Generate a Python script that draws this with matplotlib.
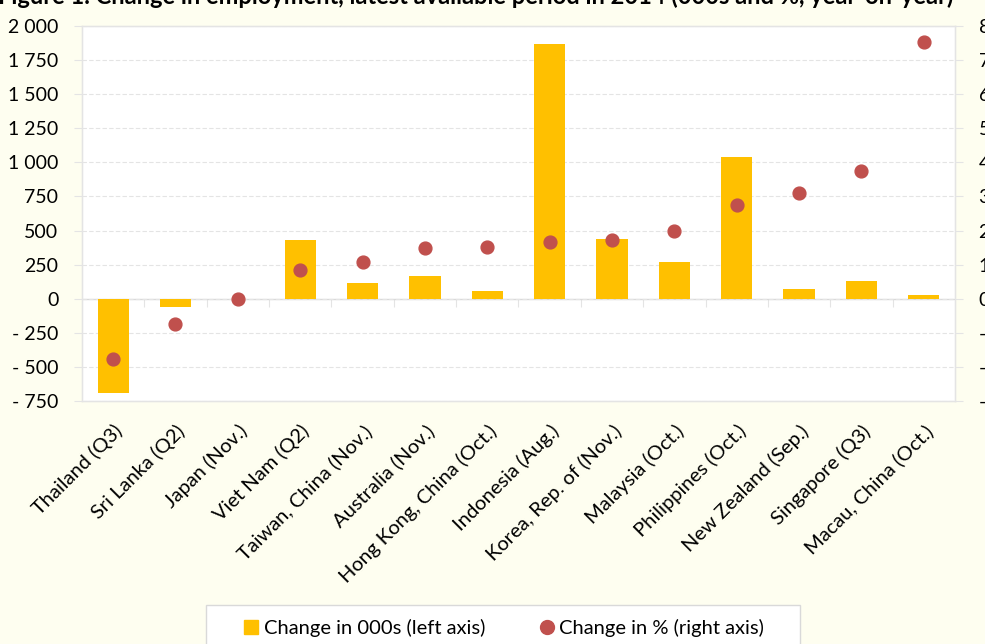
import matplotlib
matplotlib.use("Agg")
import matplotlib.pyplot as plt
from matplotlib.patches import Rectangle
from matplotlib.lines import Line2D
import numpy as np

plt.rcParams['font.family'] = ['Lato', 'DejaVu Sans']

categories = ["Thailand (Q3)", "Sri Lanka (Q2)", "Japan (Nov.)", "Viet Nam (Q2)",
              "Taiwan, China (Nov.)", "Australia (Nov.)", "Hong Kong, China (Oct.)",
              "Indonesia (Aug.)", "Korea, Rep. of (Nov.)", "Malaysia (Oct.)",
              "Philippines (Oct.)", "New Zealand (Sep.)", "Singapore (Q3)",
              "Macau, China (Oct.)"]
change_000s = [-690, -62, 0, 432, 119, 169, 59, 1867, 438, 269, 1043, 73, 127, 24]
change_pct = [-1.77, -0.74, 0.0, 0.83, 1.08, 1.50, 1.52, 1.65, 1.71, 2.00, 2.76, 3.11, 3.75, 7.54]

left_ticks = [-750, -500, -250, 0, 250, 500, 750, 1000, 1250, 1500, 1750, 2000]
left_labels = ["- 750", "- 500", "- 250", "0", "250", "500", "750",
               "1 000", "1 250", "1 500", "1 750", "2 000"]
right_ticks = [-3, -2, -1, 0, 1, 2, 3, 4, 5, 6, 7, 8]
right_labels = ["-3", "-2", "-1", "0", "1", "2", "3", "4", "5", "6", "7", "8"]

bar_color = "#FFC000"
dot_color = "#C0504D"
bg_color = "#FEFEF0"
grid_color = "#E4E4E4"

fig = plt.figure(figsize=(9.85, 6.44), dpi=100, facecolor=bg_color)
ax = fig.add_axes([0.0832, 0.3773, 0.8863, 0.5823])
ax.set_facecolor("white")

x = np.arange(len(categories))
ax.bar(x, change_000s, width=0.5, color=bar_color, zorder=2)
ax.set_xlim(-0.5, len(categories) - 0.5)
ax.set_ylim(-750, 2000)
ax.set_yticks(left_ticks)
ax.set_yticklabels(left_labels)
ax.yaxis.grid(True, color=grid_color, linestyle=(0, (4, 2)), linewidth=0.8, zorder=0)
ax.axhline(0, color="#D9D9D9", linewidth=1.0, zorder=1)
ax.tick_params(axis='y', length=6, color=grid_color, labelsize=14, pad=11)
ax.set_xticks(x)
ax.set_xticklabels(categories, rotation=45, ha='right', rotation_mode='anchor', fontsize=14.5)
ax.tick_params(axis='x', length=0, pad=15)
for s in ax.spines.values():
    s.set_color(grid_color)
    s.set_linewidth(1.0)

# category boundary ticks along the zero line
zero_frac = 750 / 2750
sec = ax.secondary_xaxis(zero_frac)
sec.set_xticks(np.arange(len(categories) - 1) + 0.5)
sec.set_xticklabels([])
sec.tick_params(axis='x', length=6, color=grid_color, direction='out')
sec.spines['bottom'].set_visible(False)

ax2 = ax.twinx()
ax2.scatter(x, change_pct, s=85, color=dot_color, zorder=3)
ax2.set_ylim(-3, 8)
ax2.set_yticks(right_ticks)
ax2.set_yticklabels(right_labels)
ax2.tick_params(axis='y', length=6, color=grid_color, labelsize=14, pad=11)
for s in ax2.spines.values():
    s.set_color(grid_color)

fig.text(-0.002, 0.9935, "Figure 1. Change in employment, latest available period in 2014 (000s and %, year-on-year)",
         fontsize=17, fontweight='bold', ha='left', va='baseline')

# legend box
fig.patches.append(Rectangle((0.209, -0.05), 0.603, 0.1106, transform=fig.transFigure,
                             facecolor='white', edgecolor='#D9D9D9', linewidth=1.0))
handles = [Line2D([], [], marker='s', linestyle='none', color=bar_color, markersize=10),
           Line2D([], [], marker='o', linestyle='none', color=dot_color, markersize=10)]
fig.legend(handles, ["Change in 000s (left axis)", "Change in % (right axis)"],
           loc='center', bbox_to_anchor=(0.5105, 0.0255), ncol=2, frameon=False,
           fontsize=14.5, handletextpad=0.1, columnspacing=2.6, handlelength=1.0)

fig.savefig("out.png", dpi=100, facecolor=bg_color)
